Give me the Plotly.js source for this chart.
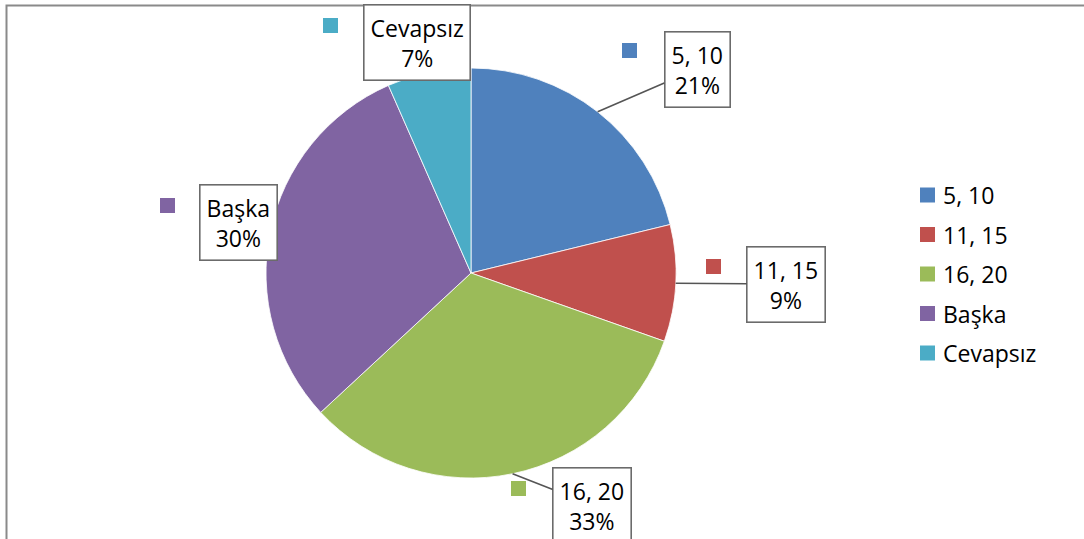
<!DOCTYPE html>
<html>
<head>
<meta charset="utf-8">
<script src="https://cdn.plot.ly/plotly-3.0.1.min.js"></script>
<style>html,body{margin:0;padding:0;background:#fff;}#chart{width:1084px;height:539px;}</style>
</head>
<body>
<div id="chart"></div>
<script>
// ---- data ----
const categories = ['5, 10', '11, 15', '16, 20', 'Başka', 'Cevapsız'];
const values = [21.2, 9.2, 32.7, 30.3, 6.6];
const colors = ['#4F81BD', '#C0504D', '#9BBB59', '#8064A2', '#4BACC6'];

// ---- layout helpers ----
const W = 1084, H = 539;
const cx = 471, cy = 273, R = 205;
const px = x => x / W;
const py = y => 1 - y / H;
const FONT = 'Open Sans, Noto Sans, sans-serif';
const FS = 23;

// label box centres (pixels), leader line flag, key square top-left
const labelLayout = [
  {bx: 697, by: 69, leader: true, sq: [622, 43]},
  {bx: 786, by: 284, leader: true, sq: [706, 259]},
  {bx: 592, by: 505, leader: true, sq: [511, 481]},
  {bx: 238, by: 222, leader: false, sq: [160, 198]},
  {bx: 417, by: 42, leader: false, sq: [323, 18]}
];
// legend placement (pixels)
const legendLeft = 920, legendTop = 195, legendStep = 39.5, keySize = 15;

const total = values.reduce((a, b) => a + b, 0);
const annotations = [];
const shapes = [];
let cum = 0;
values.forEach((v, i) => {
  const mid = (cum + v / 2) / total * 2 * Math.PI;
  cum += v;
  const tipX = cx + R * Math.sin(mid);
  const tipY = cy - R * Math.cos(mid);
  const L = labelLayout[i];
  const text = categories[i] + '<br>' + Math.round(v / total * 100) + '%';
  const common = {
    text: text, xref: 'paper', yref: 'paper',
    font: {family: FONT, size: FS, color: '#000'},
    bgcolor: '#fff', bordercolor: '#6b6b6b', borderwidth: 1.6, borderpad: 6,
    align: 'center'
  };
  if (L.leader) {
    annotations.push(Object.assign(common, {
      x: px(tipX), y: py(tipY), showarrow: true, arrowhead: 0,
      arrowwidth: 1.6, arrowcolor: '#555555', standoff: 0,
      ax: L.bx - tipX, ay: L.by - tipY
    }));
  } else {
    annotations.push(Object.assign(common, {
      x: px(L.bx), y: py(L.by), showarrow: false,
      xanchor: 'center', yanchor: 'middle'
    }));
  }
  // key square beside data label
  shapes.push({
    type: 'rect', xref: 'paper', yref: 'paper',
    x0: px(L.sq[0]), x1: px(L.sq[0] + keySize), y0: py(L.sq[1]), y1: py(L.sq[1] + keySize),
    fillcolor: colors[i], line: {width: 0}
  });
  // legend entry
  const ly = legendTop + i * legendStep;
  shapes.push({
    type: 'rect', xref: 'paper', yref: 'paper',
    x0: px(legendLeft), x1: px(legendLeft + keySize),
    y0: py(ly - keySize / 2), y1: py(ly + keySize / 2),
    fillcolor: colors[i], line: {width: 0}
  });
  annotations.push({
    text: categories[i], xref: 'paper', yref: 'paper',
    x: px(legendLeft + 21), y: py(ly), xanchor: 'left', yanchor: 'middle',
    showarrow: false, font: {family: FONT, size: FS, color: '#000'}
  });
});

// chart area border (left and top visible)
shapes.push({
  type: 'rect', xref: 'paper', yref: 'paper',
  x0: px(6.5), x1: 1.02, y0: -0.02, y1: py(5.5),
  line: {color: '#8a8a8a', width: 2}, fillcolor: 'rgba(0,0,0,0)', layer: 'below'
});

const trace = {
  type: 'pie',
  labels: categories,
  values: values,
  sort: false,
  direction: 'clockwise',
  rotation: 0,
  textinfo: 'none',
  hoverinfo: 'label+percent',
  marker: {colors: colors, line: {color: '#ffffff', width: 0.8}},
  domain: {x: [px(cx - R), px(cx + R)], y: [py(cy + R), py(cy - R)]}
};

const layout = {
  width: W, height: H,
  margin: {l: 0, r: 0, t: 0, b: 0},
  paper_bgcolor: '#fff',
  showlegend: false,
  annotations: annotations,
  shapes: shapes
};

Plotly.newPlot('chart', [trace], layout, {displayModeBar: false, staticPlot: true});
</script>
</body>
</html>
